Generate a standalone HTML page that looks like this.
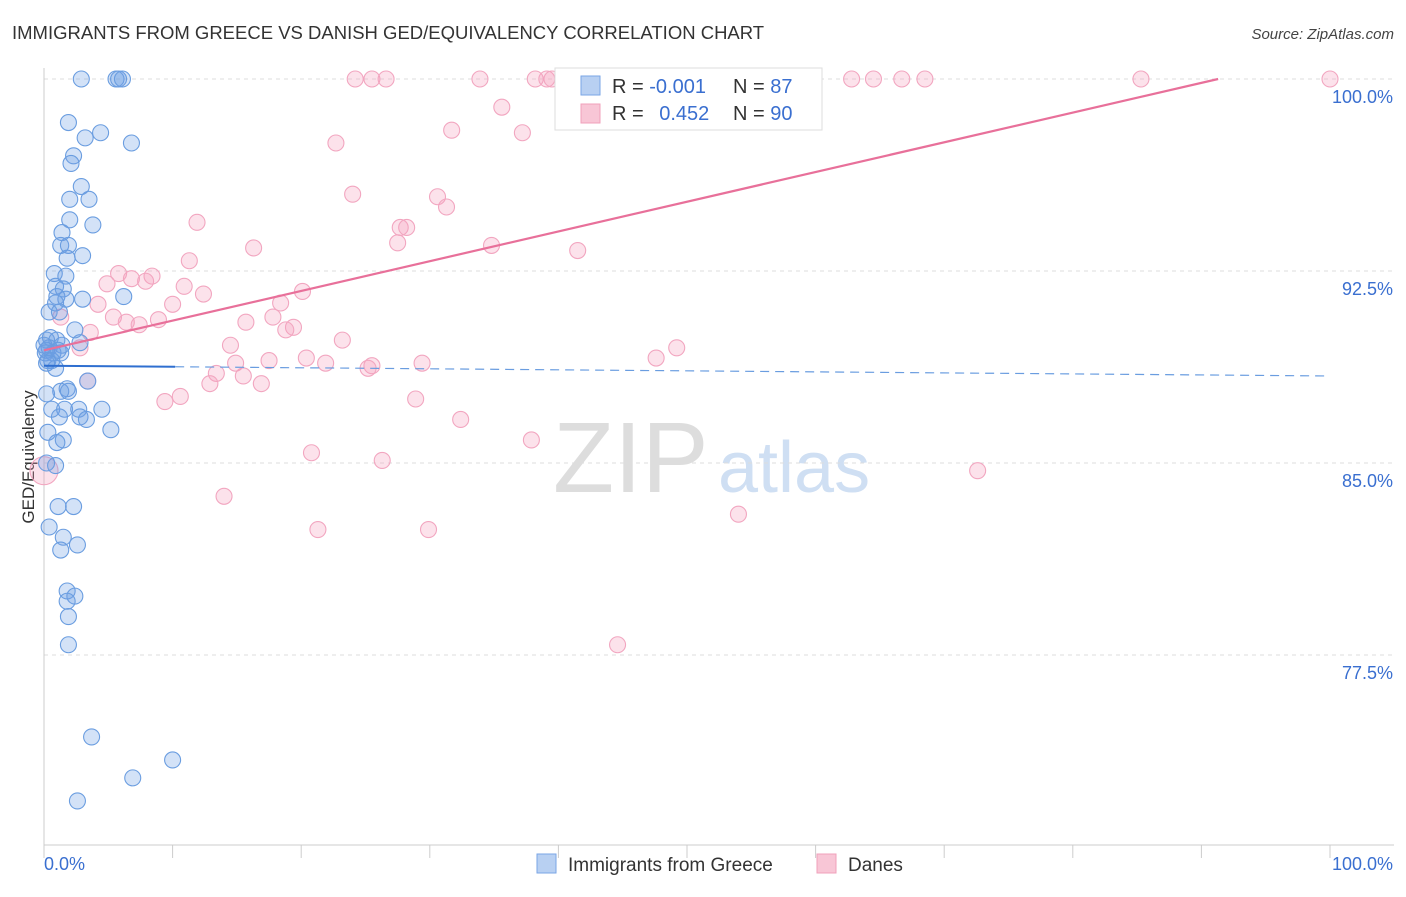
<!DOCTYPE html>
<html><head><meta charset="utf-8"><style>
body{margin:0;background:#fff;font-family:"Liberation Sans",sans-serif}
svg text{font-family:"Liberation Sans",sans-serif}
</style></head><body>
<svg id="chart" width="1406" height="892" viewBox="0 0 1406 892" xmlns="http://www.w3.org/2000/svg">
<text x="12" y="39" font-size="18.5" fill="#333">IMMIGRANTS FROM GREECE VS DANISH GED/EQUIVALENCY CORRELATION CHART</text>
<text x="1394" y="39" font-size="15" fill="#444" font-style="italic" text-anchor="end">Source: ZipAtlas.com</text>
<g>
<text x="553" y="492" font-size="100" fill="#ddd" font-family="Liberation Serif,serif">ZIP</text>
<text x="718" y="492" font-size="72" fill="#cfdff3">atlas</text>
</g>
<g id="grid"></g>
<g id="axes"></g>
<text transform="translate(34,457) rotate(-90)" font-size="17" fill="#333" text-anchor="middle">GED/Equivalency</text>
<g id="pts"></g>
<g id="trends"></g>
<g>
<rect x="555" y="68" width="267" height="62" fill="#fff" stroke="#ddd"/>
<rect x="581" y="76" width="19" height="19" fill="#b8d0f2" stroke="#7aa6e6"/>
<rect x="581" y="104" width="19" height="19" fill="#f8c6d6" stroke="#f0a0bb"/>
<text x="612" y="93" font-size="20" fill="#333">R = <tspan fill="#3a6fd0">-0.001</tspan></text>
<text x="733" y="93" font-size="20" fill="#333">N = <tspan fill="#3a6fd0">87</tspan></text>
<text x="612" y="120" font-size="20" fill="#333">R = <tspan fill="#3a6fd0" dx="10">0.452</tspan></text>
<text x="733" y="120" font-size="20" fill="#333">N = <tspan fill="#3a6fd0">90</tspan></text>
</g>
<g>
<rect x="537" y="854" width="19" height="19" fill="#b8d0f2" stroke="#7aa6e6"/>
<text x="568" y="871" font-size="19" fill="#333">Immigrants from Greece</text>
<rect x="817" y="854" width="19" height="19" fill="#f8c6d6" stroke="#f0a0bb"/>
<text x="848" y="871" font-size="19" fill="#333">Danes</text>
</g>
</svg>
<script>
const blueX=[2.9,5.6,5.8,6.1,1.9,4.4,3.2,6.8,2.3,2.1,2.9,2.0,3.5,2.0,3.8,1.4,1.3,1.9,3.0,1.8,0.8,1.7,0.9,1.5,1.0,1.7,3.0,6.2,0.9,0.4,1.2,2.4,0.5,0.2,1.0,2.8,1.4,0.4,0.7,0.1,1.3,0.3,0.9,3.4,1.8,1.3,1.9,0.2,0.6,1.6,2.7,4.5,2.8,3.3,1.2,5.2,0.3,1.5,1.0,0.9,0.2,1.1,2.3,0.4,1.5,2.6,1.3,1.8,2.4,1.8,1.9,1.9,3.7,10.0,6.9,2.6,0.2,0.6,1.1,0.0,0.2];
const blueY=[100,100,100,100,98.3,97.9,97.7,97.5,97.0,96.7,95.8,95.3,95.3,94.5,94.3,94.0,93.5,93.5,93.1,93.0,92.4,92.3,91.9,91.8,91.5,91.4,91.4,91.5,91.25,90.9,90.9,90.2,89.9,89.8,89.8,89.7,89.6,89.5,89.3,89.3,89.3,89.0,88.7,88.2,87.9,87.8,87.8,87.7,87.1,87.1,87.1,87.1,86.8,86.7,86.8,86.3,86.2,85.9,85.8,84.9,85.0,83.3,83.3,82.5,82.1,81.8,81.6,80.0,79.8,79.6,79.0,77.9,74.3,73.4,72.7,71.8,89.4,89.0,89.4,89.6,88.9];
const pinkX=[24.2,25.5,26.6,33.9,38.2,39.1,39.5,45.2,46.4,52.3,58.2,62.8,64.5,66.7,68.5,85.3,100,35.6,31.7,37.2,22.7,24.0,30.6,31.3,11.9,27.7,28.2,27.5,16.3,34.8,41.5,11.3,5.8,8.4,6.8,4.9,10.9,7.9,12.4,20.1,18.4,10.0,4.2,1.3,5.4,8.9,6.4,7.4,15.7,17.8,19.4,18.8,3.6,23.2,14.5,2.8,47.6,49.2,14.9,17.5,20.4,21.9,25.5,25.2,29.4,13.4,15.5,12.9,16.9,3.4,10.6,9.4,28.9,32.4,37.9,20.8,26.3,72.6,14.0,54.0,21.3,29.9,44.6,0];
const pinkY=[100,100,100,100,100,100,100,100,100,100,100,100,100,100,100,100,100,98.9,98.0,97.9,97.5,95.5,95.4,95.0,94.4,94.2,94.2,93.6,93.4,93.5,93.3,92.9,92.4,92.3,92.2,92.0,91.9,92.1,91.6,91.7,91.25,91.2,91.2,90.7,90.7,90.6,90.5,90.4,90.5,90.7,90.3,90.2,90.1,89.8,89.6,89.5,89.1,89.5,88.9,89.0,89.1,88.9,88.8,88.7,88.9,88.5,88.4,88.1,88.1,88.2,87.6,87.4,87.5,86.7,85.9,85.4,85.1,84.7,83.7,83.0,82.4,82.4,77.9,84.7];
const yTicks=[100,92.5,85,77.5];
const yTickLabels=["100.0%","92.5%","85.0%","77.5%"];
const blueTrend=[88.8,88.4];
const pinkTrend=[0,89.4,91.3,100];
const NS="http://www.w3.org/2000/svg";
const X=v=>44+v*12.86, Y=v=>79+(100-v)*25.6;
function mk(t,a,p){const e=document.createElementNS(NS,t);for(const k in a)e.setAttribute(k,a[k]);p.appendChild(e);return e;}
const grid=document.getElementById('grid'),axes=document.getElementById('axes'),pts=document.getElementById('pts'),tr=document.getElementById('trends');
yTicks.forEach((v,i)=>{
 const l=mk('line',{x1:44,x2:1394,y1:Y(v),y2:Y(v),stroke:'#ddd','stroke-dasharray':'4,4'},grid);
 
 
 const t=mk('text',{x:1393,y:Y(v)+24,'font-size':18,fill:'#3a6fd0','text-anchor':'end'},axes);
 t.textContent=yTickLabels[i];
 
 
});
mk('line',{x1:44,x2:44,y1:68,y2:845,stroke:'#ccc'},axes);
mk('line',{x1:44,x2:1394,y1:845,y2:845,stroke:'#ccc'},axes);
for(let i=0;i<=10;i++){const tk=mk('line',{x1:X(i*10),x2:X(i*10),y1:845,y2:858,stroke:'#ccc'},axes);
 
 }
const x0=mk('text',{x:44,y:870,'font-size':18,fill:'#3a6fd0'},axes);x0.textContent='0.0%';


const x1=mk('text',{x:1393,y:870,'font-size':18,fill:'#3a6fd0','text-anchor':'end'},axes);x1.textContent='100.0%';


pinkX.forEach((v,i)=>{const c=mk('circle',{cx:X(v),cy:Y(pinkY[i]),r:i==pinkX.length-1?14:8,fill:'rgba(244,160,190,0.3)',stroke:'#f2a6c0','stroke-width':1.1},pts);
 
 });
blueX.forEach((v,i)=>{const c=mk('circle',{cx:X(v),cy:Y(blueY[i]),r:8,fill:'rgba(110,160,230,0.3)',stroke:'#6a9de0','stroke-width':1.1},pts);
 
 });
const b1=mk('line',{x1:X(0),x2:X(10.2),y1:Y(blueTrend[0]),y2:Y(blueTrend[0]+(blueTrend[1]-blueTrend[0])*0.102),stroke:'#2f6fd0','stroke-width':2},tr);


const b2=mk('line',{x1:X(10.2),x2:X(100),y1:Y(blueTrend[0]+(blueTrend[1]-blueTrend[0])*0.102),y2:Y(blueTrend[1]),stroke:'#6a9de0','stroke-width':1.2,'stroke-dasharray':'9,6'},tr);


const p1=mk('line',{x1:X(pinkTrend[0]),y1:Y(pinkTrend[1]),x2:X(pinkTrend[2]),y2:Y(pinkTrend[3]),stroke:'#e8709a','stroke-width':2.2},tr);


</script>
</body></html>
